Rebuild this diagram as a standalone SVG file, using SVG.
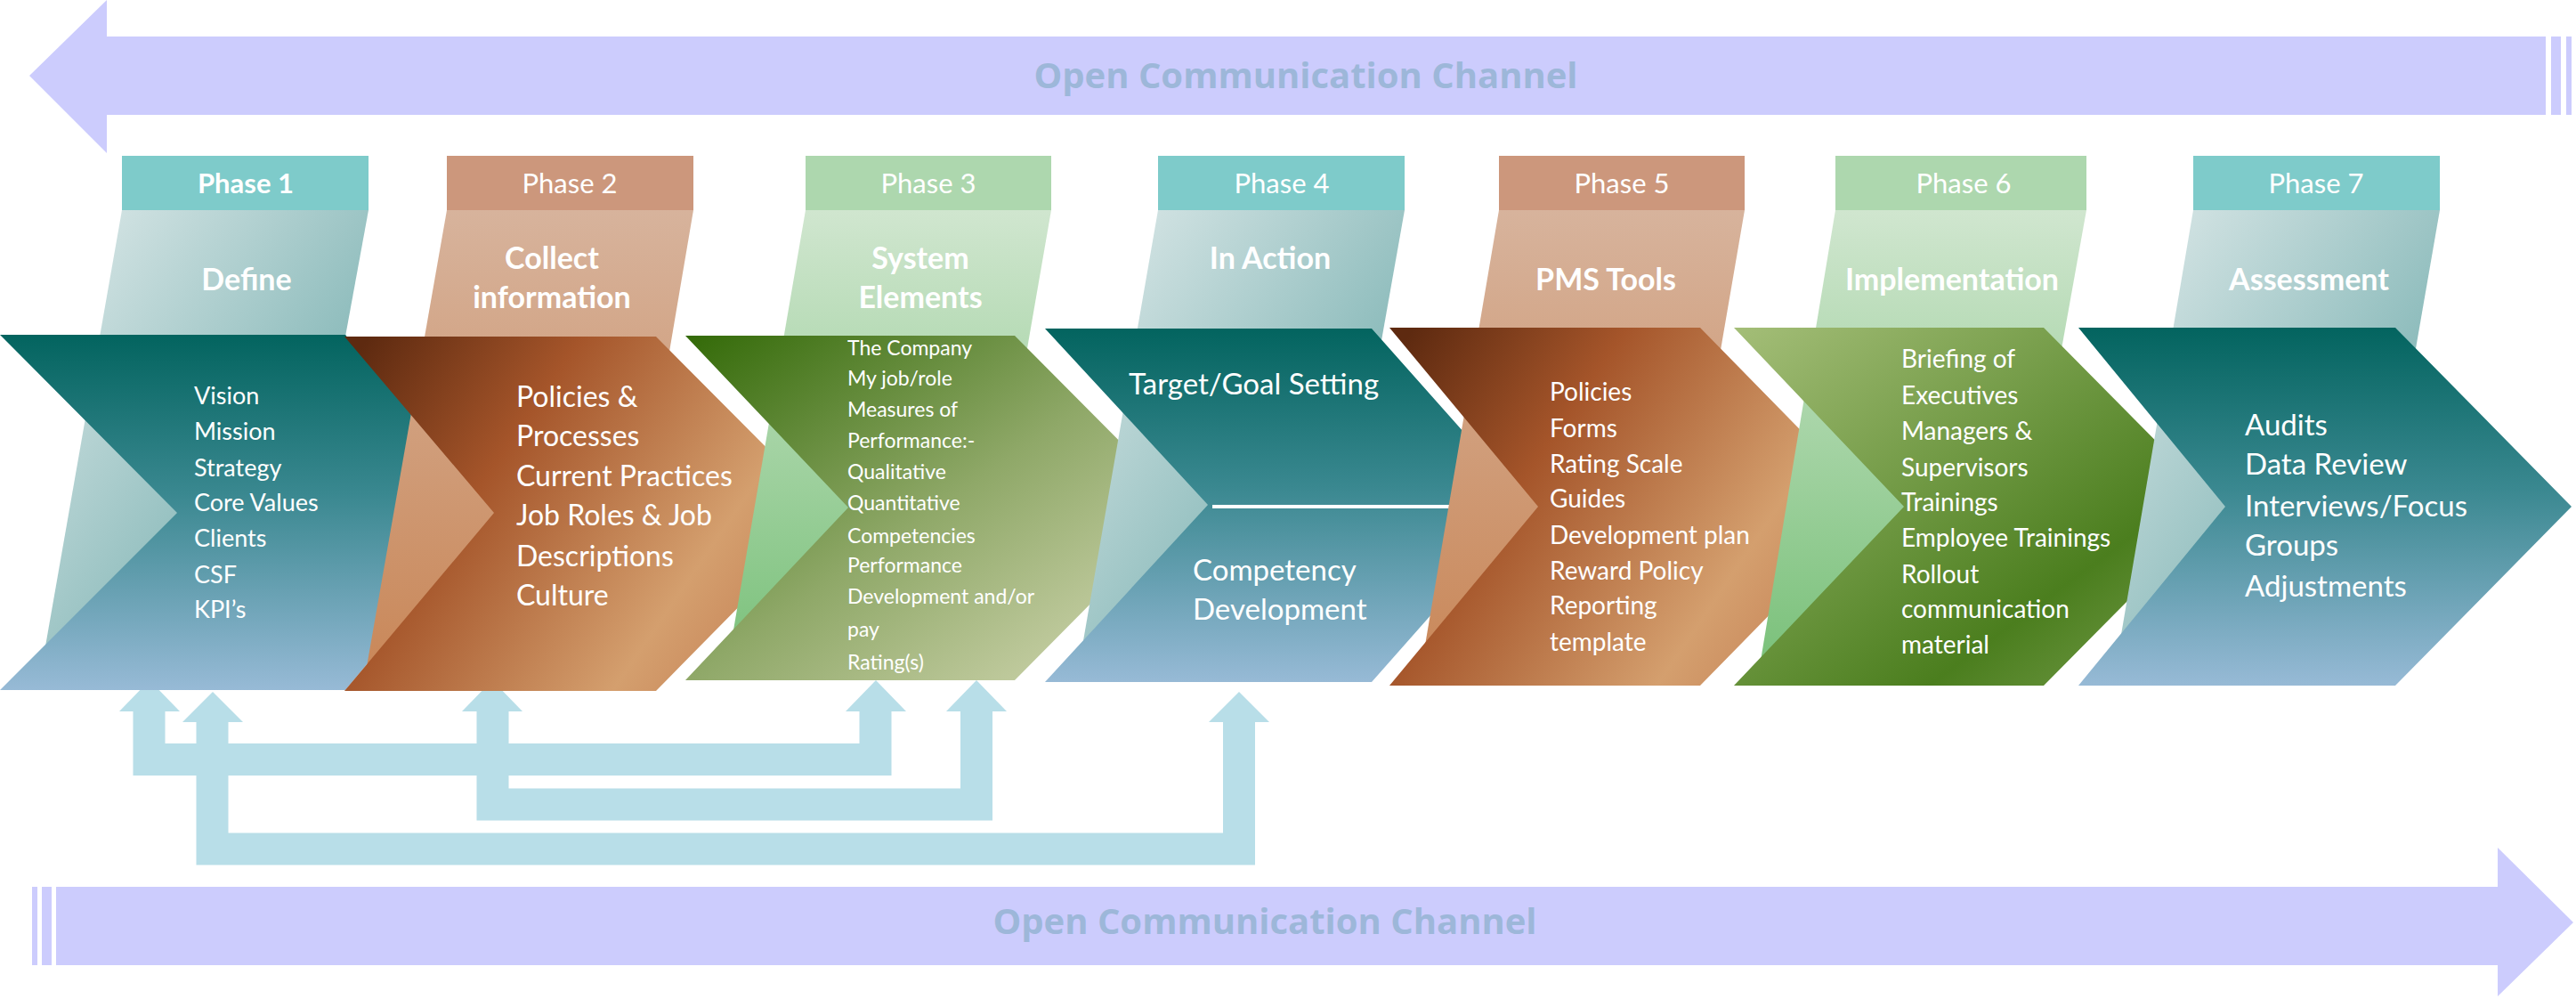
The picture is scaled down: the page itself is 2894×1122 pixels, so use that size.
<svg xmlns="http://www.w3.org/2000/svg" width="2894" height="1122" viewBox="0 0 2894 1122">
<defs>
<linearGradient id="teal" x1="0" y1="0" x2="0" y2="1"><stop offset="0" stop-color="#03645f"/><stop offset="0.45" stop-color="#3a8890"/><stop offset="1" stop-color="#97bad6"/></linearGradient>
<linearGradient id="brown" x1="0" y1="0.1" x2="1" y2="0.6"><stop offset="0" stop-color="#5e2a10"/><stop offset="0.35" stop-color="#a5552a"/><stop offset="0.8" stop-color="#d49f6e"/><stop offset="1" stop-color="#c8875a"/></linearGradient>
<linearGradient id="green3" x1="0" y1="0" x2="1" y2="1"><stop offset="0" stop-color="#336a08"/><stop offset="0.5" stop-color="#8fa868"/><stop offset="1" stop-color="#d8dbb8"/></linearGradient>
<linearGradient id="green6" x1="0" y1="0" x2="1" y2="1"><stop offset="0" stop-color="#a4be78"/><stop offset="0.7" stop-color="#4b7e1e"/><stop offset="1" stop-color="#7aa050"/></linearGradient>
<linearGradient id="stripT" x1="0" y1="0" x2="1" y2="1"><stop offset="0" stop-color="#dfeaea"/><stop offset="0.6" stop-color="#8fbdbd"/><stop offset="1" stop-color="#6aa8a8"/></linearGradient>
<linearGradient id="stripB" x1="0" y1="0" x2="0" y2="1"><stop offset="0" stop-color="#d7b39c"/><stop offset="1" stop-color="#c98758"/></linearGradient>
<linearGradient id="stripG" x1="0" y1="0" x2="0" y2="1"><stop offset="0" stop-color="#d0e6cf"/><stop offset="1" stop-color="#78c078"/></linearGradient>
</defs>
<style>
.ph{font-family:Lato,"Liberation Sans",sans-serif;font-size:31px;fill:#fff;text-anchor:middle}
.ti{font-family:Lato,"Liberation Sans",sans-serif;font-size:34px;font-weight:bold;fill:#fff;text-anchor:middle}
.tx{font-family:Lato,"Liberation Sans",sans-serif;fill:#fff}
.occ{font-family:"Open Sans","Liberation Sans",sans-serif;font-size:40px;font-weight:bold;fill:#9db7d9;text-anchor:middle}
.fb{fill:none;stroke:#b8dee8;stroke-width:36;stroke-linejoin:miter}
.ah{fill:#b8dee8}
.ch{fill:#ccccfd}
</style>
<g id="top-channel">
<polygon class="ch" points="33,85 120,0 120,41 2860,41 2860,129 120,129 120,172"/>
<rect class="ch" x="2866" y="41" width="11" height="88"/>
<rect class="ch" x="2883" y="41" width="6" height="88"/>
<text class="occ" x="1467" y="99">Open Communication Channel</text>
</g>
<g id="bottom-channel">
<rect class="ch" x="36" y="996" width="6" height="88"/>
<rect class="ch" x="47" y="996" width="11" height="88"/>
<polygon class="ch" points="63,996 2806,996 2806,952 2891,1036 2806,1119 2806,1084 63,1084"/>
<text class="occ" x="1421" y="1049">Open Communication Channel</text>
</g>
<g id="connectors">
<polyline class="fb" points="167.5,796 167.5,853 983.5,853 983.5,796"/>
<polyline class="fb" points="553.5,796 553.5,903.5 1097,903.5 1097,796"/>
<polyline class="fb" points="238.5,808 238.5,953.5 1392,953.5 1392,808"/>
<polygon class="ah" points="168,764 202,799 134,799"/>
<polygon class="ah" points="239,777 273,811 205,811"/>
<polygon class="ah" points="553,764 587,799 519,799"/>
<polygon class="ah" points="984,764 1018,799 950,799"/>
<polygon class="ah" points="1097,764 1131,799 1063,799"/>
<polygon class="ah" points="1392,777 1426,811 1358,811"/>
</g>
<g id="phase1">
<polygon fill="url(#stripT)" points="137,236 414,236 318,760 45,760"/>
<rect x="137" y="175" width="277" height="61" fill="#7ecbca"/>
<text class="ph" x="276" y="217" font-weight="bold">Phase 1</text>
<text class="ti" x="277" y="326">Define</text>
<polygon fill="url(#teal)" points="0,376 388,376 554,576 388,775 0,775 199,576"/>
<text class="tx" font-size="27"><tspan x="218" y="454">Vision</tspan><tspan x="218" y="494">Mission</tspan><tspan x="218" y="535">Strategy</tspan><tspan x="218" y="574">Core Values</tspan><tspan x="218" y="614">Clients</tspan><tspan x="218" y="655">CSF</tspan><tspan x="218" y="694">KPI’s</tspan></text>
</g>
<g id="phase2">
<polygon fill="url(#stripB)" points="502,236 779,236 690,760 410,760"/>
<rect x="502" y="175" width="277" height="61" fill="#cc977c"/>
<text class="ph" x="640" y="217">Phase 2</text>
<text class="ti"><tspan x="620" y="302">Collect</tspan><tspan x="620" y="346">information</tspan></text>
<polygon fill="url(#brown)" points="387,378 737,378 934,576 737,776 387,776 555,576"/>
<text class="tx" font-size="32"><tspan x="580" y="457">Policies &amp;</tspan><tspan x="580" y="501">Processes</tspan><tspan x="580" y="546">Current Practices</tspan><tspan x="580" y="590">Job Roles &amp; Job</tspan><tspan x="580" y="636">Descriptions</tspan><tspan x="580" y="680">Culture</tspan></text>
</g>
<g id="phase3">
<polygon fill="url(#stripG)" points="905,236 1181,236 1090,760 815,760"/>
<rect x="905" y="175" width="276" height="61" fill="#add7ae"/>
<text class="ph" x="1043" y="217">Phase 3</text>
<text class="ti"><tspan x="1034" y="302">System</tspan><tspan x="1034" y="346">Elements</tspan></text>
<polygon fill="url(#green3)" points="770,377 1140,377 1332,570 1140,764 770,764 953,570"/>
<text class="tx" font-size="23"><tspan x="952" y="399">The Company</tspan><tspan x="952" y="433">My job/role</tspan><tspan x="952" y="468">Measures of</tspan><tspan x="952" y="503">Performance:-</tspan><tspan x="952" y="538">Qualitative</tspan><tspan x="952" y="573">Quantitative</tspan><tspan x="952" y="610">Competencies</tspan><tspan x="952" y="643">Performance</tspan><tspan x="952" y="678">Development  and/or</tspan><tspan x="952" y="715">pay</tspan><tspan x="952" y="752">Rating(s)</tspan></text>
</g>
<g id="phase4">
<polygon fill="url(#stripT)" points="1301,236 1578,236 1485,760 1210,760"/>
<rect x="1301" y="175" width="277" height="61" fill="#7ecbca"/>
<text class="ph" x="1440" y="217">Phase 4</text>
<text class="ti" x="1427" y="302">In Action</text>
<polygon fill="url(#teal)" points="1174,369 1541,369 1717,567 1541,766 1174,766 1357,567"/>
<line x1="1362" y1="569" x2="1717" y2="569" stroke="#fff" stroke-width="4"/>
<text class="tx" font-size="33"><tspan x="1268" y="443">Target/Goal Setting</tspan><tspan x="1340" y="652">Competency</tspan><tspan x="1340" y="696">Development</tspan></text>
</g>
<g id="phase5">
<polygon fill="url(#stripB)" points="1684,236 1960,236 1870,760 1595,760"/>
<rect x="1684" y="175" width="276" height="61" fill="#cc977c"/>
<text class="ph" x="1822" y="217">Phase 5</text>
<text class="ti" x="1804" y="326">PMS Tools</text>
<polygon fill="url(#brown)" points="1561,368 1910,368 2107,569 1910,770 1561,770 1728,569"/>
<text class="tx" font-size="28"><tspan x="1741" y="450">Policies</tspan><tspan x="1741" y="491">Forms</tspan><tspan x="1741" y="531">Rating Scale</tspan><tspan x="1741" y="570">Guides</tspan><tspan x="1741" y="611">Development plan</tspan><tspan x="1741" y="651">Reward Policy</tspan><tspan x="1741" y="690">Reporting</tspan><tspan x="1741" y="731">template</tspan></text>
</g>
<g id="phase6">
<polygon fill="url(#stripG)" points="2062,236 2344,236 2250,760 1975,760"/>
<rect x="2062" y="175" width="282" height="61" fill="#add7ae"/>
<text class="ph" x="2206" y="217">Phase 6</text>
<text class="ti" x="2193" y="326">Implementation</text>
<polygon fill="url(#green6)" points="1948,368 2296,368 2495,569 2296,770 1948,770 2139,569"/>
<text class="tx" font-size="28"><tspan x="2136" y="413">Briefing of</tspan><tspan x="2136" y="454">Executives</tspan><tspan x="2136" y="494">Managers &amp;</tspan><tspan x="2136" y="535">Supervisors</tspan><tspan x="2136" y="574">Trainings</tspan><tspan x="2136" y="614">Employee Trainings</tspan><tspan x="2136" y="655">Rollout</tspan><tspan x="2136" y="694">communication</tspan><tspan x="2136" y="734">material</tspan></text>
</g>
<g id="phase7">
<polygon fill="url(#stripT)" points="2464,236 2741,236 2650,760 2375,760"/>
<rect x="2464" y="175" width="277" height="61" fill="#7ecbca"/>
<text class="ph" x="2602" y="217">Phase 7</text>
<text class="ti" x="2594" y="326">Assessment</text>
<polygon fill="url(#teal)" points="2335,368 2691,368 2889,569 2691,770 2335,770 2500,569"/>
<text class="tx" font-size="33"><tspan x="2522" y="489">Audits</tspan><tspan x="2522" y="533">Data Review</tspan><tspan x="2522" y="580">Interviews/Focus</tspan><tspan x="2522" y="624">Groups</tspan><tspan x="2522" y="670">Adjustments</tspan></text>
</g>
</svg>
